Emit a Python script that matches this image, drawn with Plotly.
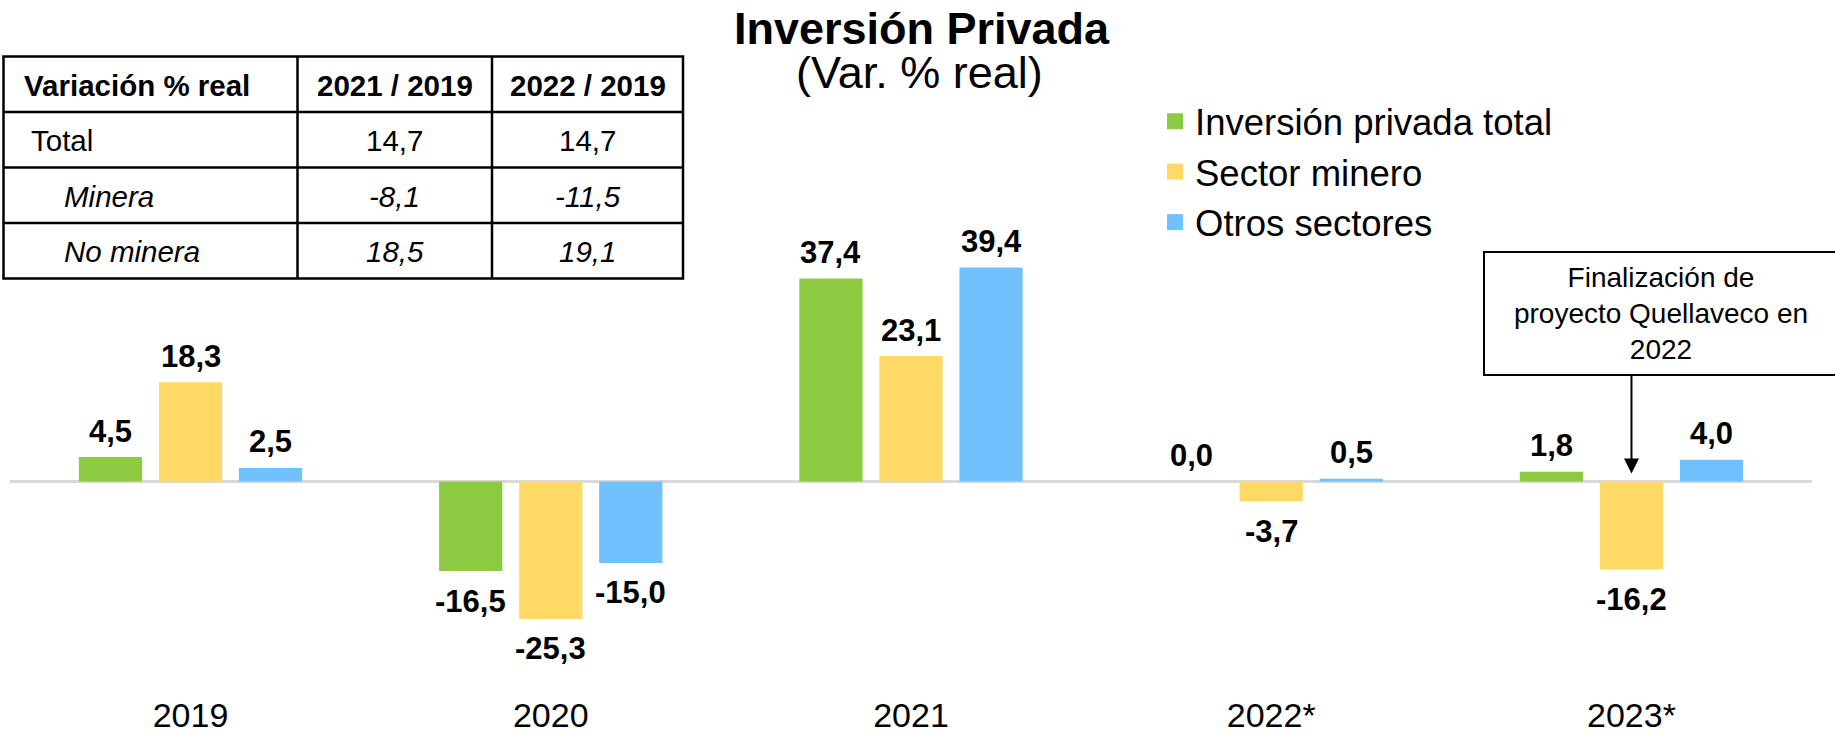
import plotly.graph_objects as go

# ---------------- data ----------------
years = ["2019", "2020", "2021", "2022*", "2023*"]
series_names = ["Inversión privada total", "Sector minero", "Otros sectores"]
total = [4.5, -16.5, 37.4, 0.0, 1.8]
minero = [18.3, -25.3, 23.1, -3.7, -16.2]
otros = [2.5, -15.0, 39.4, 0.5, 4.0]
series_values = [total, minero, otros]
colors = ["#8CCB41", "#FFD966", "#71C1FF"]

table_header = ["Variación % real", "2021 / 2019", "2022 / 2019"]
table_rows = ["Total", "Minera", "No minera"]
table_2021 = ["14,7", "-8,1", "18,5"]
table_2022 = ["14,7", "-11,5", "19,1"]
table_italic = [False, True, True]

title_text = "Inversión Privada"
subtitle_text = "(Var. % real)"
note_text = "Finalización de<br>proyecto Quellaveco en<br>2022"
note_year_index = 4  # 2023*
note_series_index = 1  # Sector minero

# ---------------- layout constants ----------------
W, H = 1835, 734
FONT = "Liberation Sans, Arial, Helvetica, sans-serif"
ZERO_PX = 481.5
PX_PER_UNIT = 5.43
TOP_PX, BOTTOM_PX = 100, 692
LEFT_PX, RIGHT_PX = 10.4, 1811.6
BARGAP = 1 / 3
BARGROUPGAP = 0.21

# table geometry (pixels)
TAB_X0, TAB_Y0 = 3.5, 56.5
TAB_COL_W = [294, 194.5, 191]
TAB_ROW_H = 55.5
TAB_FONT = 29.5
TAB_TEXT_DY = 1.2
TAB_INDENT_HEADER, TAB_INDENT_TOTAL, TAB_INDENT_SUB = 19.5, 26.5, 59.5


def fx(p):
    return p / W


def fy(p):
    return 1 - p / H


def fmt(v):
    return f"{v:.1f}".replace(".", ",")


fig = go.Figure()

for name, vals, col in zip(series_names, series_values, colors):
    fig.add_trace(go.Bar(
        x=years, y=vals, name=name, marker=dict(color=col, line=dict(width=0)),
        showlegend=False, hoverinfo="x+y"))

# legend entries (square swatches)
for name, col in zip(series_names, colors):
    fig.add_trace(go.Scatter(
        x=[None], y=[None], mode="markers", name=name,
        marker=dict(symbol="square", size=19, color=col), showlegend=True))

annotations = []
shapes = []

# ---------------- table (grid + cell texts) ----------------
col_edges = [TAB_X0]
for w in TAB_COL_W:
    col_edges.append(col_edges[-1] + w)
n_rows = 1 + len(table_rows)
row_edges = [TAB_Y0 + r * TAB_ROW_H for r in range(n_rows + 1)]

line_style = dict(color="black", width=2.5)
shapes.append(dict(type="rect", xref="paper", yref="paper",
                   x0=fx(col_edges[0]), x1=fx(col_edges[-1]),
                   y0=fy(row_edges[-1]), y1=fy(row_edges[0]),
                   line=line_style, fillcolor="white", layer="above"))
for yy in row_edges[1:-1]:
    shapes.append(dict(type="line", xref="paper", yref="paper",
                       x0=fx(col_edges[0]), x1=fx(col_edges[-1]), y0=fy(yy), y1=fy(yy),
                       line=line_style, layer="above"))
for xx in col_edges[1:-1]:
    shapes.append(dict(type="line", xref="paper", yref="paper",
                       x0=fx(xx), x1=fx(xx), y0=fy(row_edges[-1]), y1=fy(row_edges[0]),
                       line=line_style, layer="above"))

table_columns = [table_rows, table_2021, table_2022]
for r in range(n_rows):
    yc = (row_edges[r] + row_edges[r + 1]) / 2 + TAB_TEXT_DY
    for c in range(len(table_header)):
        if r == 0:
            txt = f"<b>{table_header[c]}</b>"
            italic = False
        else:
            txt = table_columns[c][r - 1]
            italic = table_italic[r - 1]
            if italic:
                txt = f"<i>{txt}</i>"
        if c == 0:
            if r == 0:
                ind = TAB_INDENT_HEADER
            else:
                ind = TAB_INDENT_SUB if italic else TAB_INDENT_TOTAL
            xpos, xanc = col_edges[0] + ind, "left"
        else:
            xpos, xanc = (col_edges[c] + col_edges[c + 1]) / 2, "center"
        annotations.append(dict(
            x=fx(xpos), y=fy(yc), xref="paper", yref="paper", text=txt,
            showarrow=False, xanchor=xanc, yanchor="middle", borderpad=0,
            font=dict(family=FONT, size=TAB_FONT, color="black")))

# ---------------- bar value labels ----------------
slot = (1 - BARGAP) / len(series_values)
for k, vals in enumerate(series_values):
    offset = (k - (len(series_values) - 1) / 2) * slot
    for i, v in enumerate(vals):
        annotations.append(dict(
            x=i + offset, y=v, xref="x", yref="y", text=f"<b>{fmt(v)}</b>",
            showarrow=False, yanchor="middle", xanchor="center",
            yshift=26 if v >= 0 else -30,
            font=dict(family=FONT, size=31, color="black")))

annotations.append(dict(
    x=fx(920), y=fy(73), xref="paper", yref="paper", text=subtitle_text,
    showarrow=False, xanchor="center", yanchor="middle",
    font=dict(family=FONT, size=45, color="black")))

# note box
annotations.append(dict(
    x=fx(1661), y=fy(313.5), xref="paper", yref="paper", text=note_text,
    showarrow=False, xanchor="center", yanchor="middle", align="center",
    width=350, height=119, borderpad=1, bordercolor="black", borderwidth=2,
    bgcolor="white", font=dict(family=FONT, size=28, color="black")))

# arrow pointing to the mining bar in 2023
annotations.append(dict(
    x=note_year_index + (note_series_index - 1) * slot, y=0, xref="x", yref="y",
    text="", showarrow=True, ax=0, ay=-(ZERO_PX - 374), standoff=8,
    arrowhead=2, arrowsize=1.5, arrowwidth=2, arrowcolor="black"))

y_range = [-(BOTTOM_PX - ZERO_PX) / PX_PER_UNIT, (ZERO_PX - TOP_PX) / PX_PER_UNIT]

fig.update_layout(
    template="none",
    width=W, height=H,
    margin=dict(l=0, r=0, t=0, b=0, pad=0),
    paper_bgcolor="white", plot_bgcolor="white",
    font=dict(family=FONT, color="black"),
    barmode="group", bargap=BARGAP, bargroupgap=BARGROUPGAP,
    title=dict(text=f"<b>{title_text}</b>", x=fx(921.5), xanchor="center",
               xref="container", yref="container", y=fy(28.7), yanchor="middle",
               font=dict(family=FONT, size=45, color="black")),
    xaxis=dict(type="category", range=[-0.5, len(years) - 0.5],
               domain=[fx(LEFT_PX), fx(RIGHT_PX)], showgrid=False, showline=False,
               zeroline=False, ticks="", automargin=False,
               tickfont=dict(family=FONT, size=34, color="black")),
    yaxis=dict(range=y_range, domain=[fy(BOTTOM_PX), fy(TOP_PX)],
               showgrid=False, showline=False, showticklabels=False, ticks="",
               zeroline=True, zerolinecolor="#D9D9D9", zerolinewidth=2.5,
               automargin=False),
    showlegend=True,
    legend=dict(x=fx(1155), y=fy(91), xanchor="left", yanchor="top",
                bgcolor="rgba(0,0,0,0)", traceorder="normal", tracegroupgap=0,
                font=dict(family=FONT, size=36.5, color="black")),
    shapes=shapes,
    annotations=annotations,
)

fig.write_html("out.html", config={"displayModeBar": False},
               post_script="document.body.style.margin='0';")
